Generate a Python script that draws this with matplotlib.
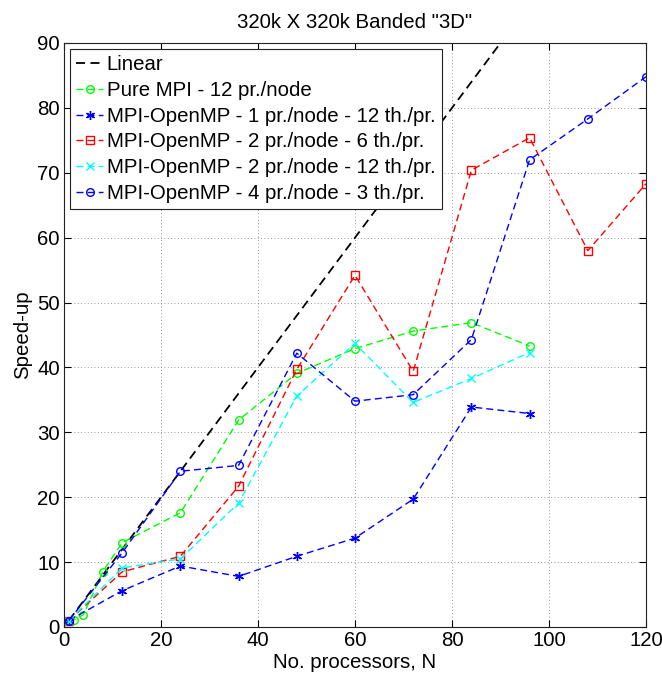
import matplotlib
matplotlib.use("Agg")
import matplotlib.pyplot as plt

plt.rcParams['font.family'] = ['Liberation Sans', 'DejaVu Sans']

title = '320k X 320k Banded "3D"'
xlabel = 'No. processors, N'
ylabel = 'Speed-up'

linear_x = [1, 120]
linear_y = [1, 120]

pure_x = [1, 2, 4, 8, 12, 24, 36, 48, 60, 72, 84, 96]
pure_y = [1, 1.1, 1.9, 8.5, 13.0, 17.6, 31.9, 39.1, 42.9, 45.6, 46.9, 43.3]

h1_x = [1, 12, 24, 36, 48, 60, 72, 84, 96]
h1_y = [1, 5.6, 9.4, 7.8, 10.9, 13.7, 19.7, 33.9, 32.9]

h26_x = [1, 12, 24, 36, 48, 60, 72, 84, 96, 108, 120]
h26_y = [1, 8.5, 10.9, 21.7, 39.7, 54.2, 39.4, 70.4, 75.4, 58.0, 68.3]

h212_x = [1, 12, 24, 36, 48, 60, 72, 84, 96]
h212_y = [1, 9.1, 10.5, 19.1, 35.6, 43.7, 34.6, 38.3, 42.3]

h43_x = [1, 12, 24, 36, 48, 60, 72, 84, 96, 108, 120]
h43_y = [1, 11.45, 24.0, 24.9, 42.2, 34.8, 35.8, 44.3, 72.0, 78.3, 84.8]

labels = ['Linear',
          'Pure MPI - 12 pr./node',
          'MPI-OpenMP - 1 pr./node - 12 th./pr.',
          'MPI-OpenMP - 2 pr./node - 6 th./pr.',
          'MPI-OpenMP - 2 pr./node - 12 th./pr.',
          'MPI-OpenMP - 4 pr./node - 3 th./pr.']

FS = 14.7

fig = plt.figure(figsize=(6.62, 6.78), dpi=100)
ax = fig.add_axes([64/662, 1-627/678, (646-64)/662, (627-43)/678])

dash = (0, (5, 3))
ax.plot(linear_x, linear_y, color='k', linestyle=dash, lw=1.3, label=labels[0])
ax.plot(pure_x, pure_y, color=(0, 1, 0), linestyle=dash, lw=1.0, marker='o',
        ms=5.5, mfc='none', mew=1.0, label=labels[1])
ax.plot(h1_x, h1_y, color=(0, 0, 1), linestyle=dash, lw=1.0, marker=(6, 2, 0),
        ms=6.5, mew=1.0, label=labels[2])
ax.plot(h26_x, h26_y, color=(1, 0, 0), linestyle=dash, lw=1.0, marker='s',
        ms=5.5, mfc='none', mew=1.0, label=labels[3])
ax.plot(h212_x, h212_y, color=(0, 1, 1), linestyle=dash, lw=1.0, marker='x',
        ms=5.5, mew=1.0, label=labels[4])
ax.plot(h43_x, h43_y, color=(0, 0, 1), linestyle=dash, lw=1.0, marker='o',
        ms=5.5, mfc='none', mew=1.0, label=labels[5])

ax.set_xlim(0, 120)
ax.set_ylim(0, 90)
ax.set_xticks(range(0, 121, 20))
ax.set_yticks(range(0, 91, 10))
ax.tick_params(direction='in', top=True, right=True, labelsize=FS, length=5, pad=3)
ax.grid(True, linestyle=(0, (1, 3)), color='#777777', lw=0.6)
for s in ax.spines.values():
    s.set_linewidth(0.8)
    s.set_color('#222222')

ax.set_title(title, fontsize=FS, pad=11)
ax.set_xlabel(xlabel, fontsize=FS, labelpad=2)
ax.set_ylabel(ylabel, fontsize=FS, labelpad=4)

leg = ax.legend(loc='upper left', fontsize=FS, fancybox=False, framealpha=1,
                edgecolor='#222222', handlelength=1.3, handletextpad=0.2,
                labelspacing=0.33, borderaxespad=0.3, borderpad=0.3)
leg.get_frame().set_linewidth(0.8)

fig.savefig('out.png', dpi=100)
